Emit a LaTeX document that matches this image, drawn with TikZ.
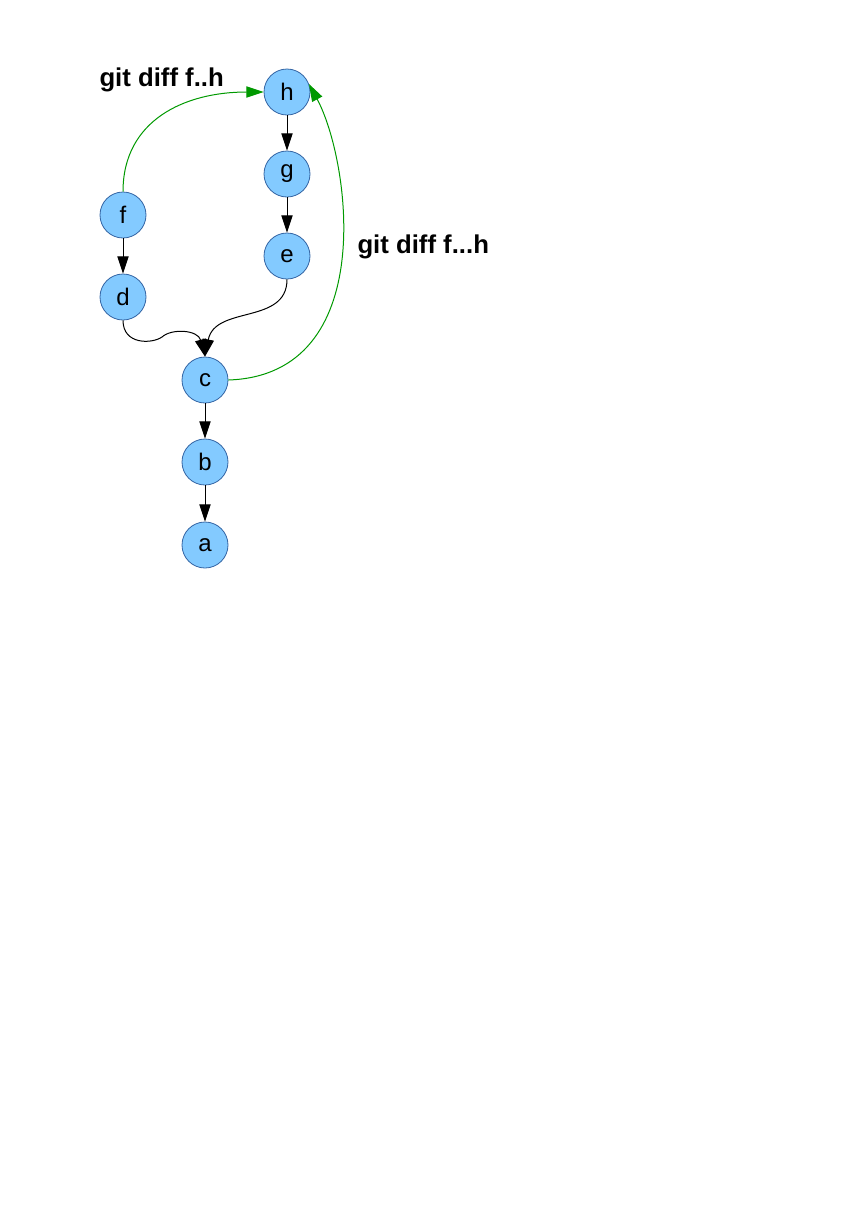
\documentclass[tikz,border=0pt]{standalone}
\usepackage{fontspec}
\setmainfont{Liberation Sans}
\usetikzlibrary{arrows.meta}

\definecolor{commitfill}{RGB}{131,202,255}
\definecolor{commitline}{RGB}{52,101,164}
\definecolor{diffgreen}{RGB}{0,153,0}

\tikzset{every picture/.style={line width=0.75pt}}
\tikzset{
  commit/.style={circle,draw=commitline,fill=commitfill,line width=0.6pt,minimum size=34.5pt,inner sep=0pt,font=\fontsize{18}{21}\selectfont},
  parent/.style={-{Triangle[length=13pt,width=8.5pt]}},
  diffarrow/.style={diffgreen,-{Triangle[length=13pt,width=8.5pt]}},
  difflabel/.style={anchor=base west,inner sep=0pt,font=\fontsize{19.3}{23}\selectfont\bfseries}
}

\begin{document}
\begin{tikzpicture}[x=0.75pt,y=0.75pt,yscale=-1,xscale=1]
\path (0,0) rectangle (864,1222); %set diagram to the page size
%Shape: Circle
\node [commit] (h) at (287,92) {h};
\node [commit] (g) at (287,174) {g};
\node [commit] (e) at (287,256) {e};
\node [commit] (f) at (123,215) {f};
\node [commit] (d) at (123,297) {d};
\node [commit] (c) at (205,380) {c};
\node [commit] (b) at (205,462) {b};
\node [commit] (a) at (205,545) {a};
%Straight Lines
\draw [parent] (h) -- (g);
\draw [parent] (g) -- (e);
\draw [parent] (f) -- (d);
\draw [parent] (c) -- (b);
\draw [parent] (b) -- (a);
%Curve Lines
\draw [parent] (d.south) .. controls (123,345) and (152,344) .. (162,337) .. controls (172,328) and (198,330) .. (c.north);
\draw [parent] (e.south) .. controls (287,325) and (215,305) .. (c.north);
%Curve Lines
\draw [diffarrow] (f.north) .. controls (123,120) and (185,92) .. (h.west);
\draw [diffarrow] (c.east) .. controls (380,375) and (350,160) .. (h.20);
% Text Node
\node [difflabel] (twodot) at (99,86) {git diff f..h};
% Text Node
\node [difflabel] (threedot) at (357,253) {git diff f...h};
\end{tikzpicture}
\end{document}
